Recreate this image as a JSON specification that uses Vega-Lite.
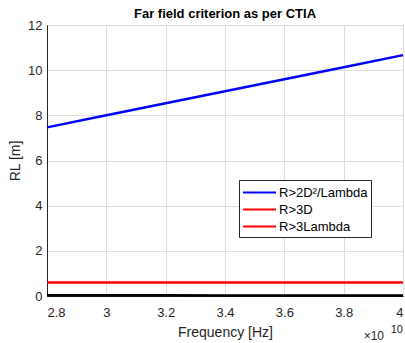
{
  "$schema": "https://vega.github.io/schema/vega-lite/v6.json",
  "autosize": {"type": "none"},
  "width": 356,
  "height": 271,
  "padding": {"left": 47, "top": 25, "right": 2, "bottom": 47},
  "background": "white",
  "title": {"text": "Far field criterion as per CTIA", "font": "Liberation Sans", "fontSize": 13, "fontWeight": "bold", "color": "#000000", "offset": -2, "anchor": "middle"},
  "config": {
    "view": {"stroke": "#262626", "strokeWidth": 1},
    "axis": {"labelFont": "Liberation Sans", "titleFont": "Liberation Sans", "labelFontSize": 13, "titleFontSize": 14, "titleFontWeight": "normal", "labelColor": "#262626", "titleColor": "#262626", "domainColor": "#262626", "tickColor": "#262626", "gridColor": "#dfdfdf", "gridWidth": 1, "tickSize": 0}
  },
  "datasets": {
    "lines": [
      {"f": 2.8e10, "rl": 7.467, "s": "R>2D²/Lambda"},
      {"f": 3.0e10, "rl": 8.0, "s": "R>2D²/Lambda"},
      {"f": 3.2e10, "rl": 8.533, "s": "R>2D²/Lambda"},
      {"f": 3.4e10, "rl": 9.067, "s": "R>2D²/Lambda"},
      {"f": 3.6e10, "rl": 9.6, "s": "R>2D²/Lambda"},
      {"f": 3.8e10, "rl": 10.133, "s": "R>2D²/Lambda"},
      {"f": 4.0e10, "rl": 10.667, "s": "R>2D²/Lambda"},
      {"f": 2.8e10, "rl": 0.6, "s": "R>3D"},
      {"f": 4.0e10, "rl": 0.6, "s": "R>3D"}
    ],
    "lambda": [
      {"f": 2.8e10, "rl": 0.032},
      {"f": 3.0e10, "rl": 0.030},
      {"f": 3.2e10, "rl": 0.028},
      {"f": 3.4e10, "rl": 0.026},
      {"f": 3.6e10, "rl": 0.025},
      {"f": 3.8e10, "rl": 0.024},
      {"f": 4.0e10, "rl": 0.0225}
    ],
    "note": [{"f": 4.0e10, "rl": 0, "base": "×10", "exp": "10"}]
  },
  "layer": [
    {
      "data": {"name": "lambda"},
      "mark": {"type": "line", "color": "#000000", "strokeWidth": 2.5, "clip": false},
      "encoding": {
        "x": {"field": "f", "type": "quantitative", "scale": {"domain": [2.8e10, 4e10], "nice": false, "zero": false}, "axis": {"title": "Frequency [Hz]", "values": [2.8e10, 3.0e10, 3.2e10, 3.4e10, 3.6e10, 3.8e10, 4.0e10], "labelExpr": "format(datum.value/1e10, '~g')", "labelPadding": 10, "titlePadding": 6, "grid": true}},
        "y": {"field": "rl", "type": "quantitative", "scale": {"domain": [0, 12], "nice": false}, "axis": {"title": "RL [m]", "values": [0, 2, 4, 6, 8, 10, 12], "labelPadding": 5, "titlePadding": 5, "grid": true}}
      }
    },
    {
      "data": {"name": "lines"},
      "mark": {"type": "line", "strokeWidth": 2.5},
      "encoding": {
        "x": {"field": "f", "type": "quantitative"},
        "y": {"field": "rl", "type": "quantitative"},
        "color": {
          "field": "s", "type": "nominal",
          "scale": {"domain": ["R>2D²/Lambda", "R>3D", "R>3Lambda"], "range": ["#0000ff", "#ff0000", "#ff0000"]},
          "legend": {"title": null, "orient": "none", "legendX": 192, "legendY": 155, "direction": "vertical", "symbolType": "M-1,0H2.88", "symbolSize": 289, "symbolStrokeWidth": 2, "labelFont": "Liberation Sans", "labelFontSize": 13, "labelColor": "#000000", "strokeColor": "#262626", "fillColor": "white", "padding": 3, "rowPadding": 0, "symbolOffset": 0, "labelOffset": 18, "labelLimit": 200}
        }
      }
    },
    {
      "data": {"name": "note"},
      "mark": {"type": "text", "align": "right", "baseline": "middle", "dy": 40, "dx": -19, "font": "Liberation Sans", "fontSize": 12, "color": "#262626", "clip": false},
      "encoding": {
        "x": {"field": "f", "type": "quantitative"},
        "y": {"field": "rl", "type": "quantitative"},
        "text": {"field": "base"}
      }
    },
    {
      "data": {"name": "note"},
      "mark": {"type": "text", "align": "right", "baseline": "middle", "dy": 34, "dx": 0, "font": "Liberation Sans", "fontSize": 11, "color": "#262626", "clip": false},
      "encoding": {
        "x": {"field": "f", "type": "quantitative"},
        "y": {"field": "rl", "type": "quantitative"},
        "text": {"field": "exp"}
      }
    }
  ]
}
